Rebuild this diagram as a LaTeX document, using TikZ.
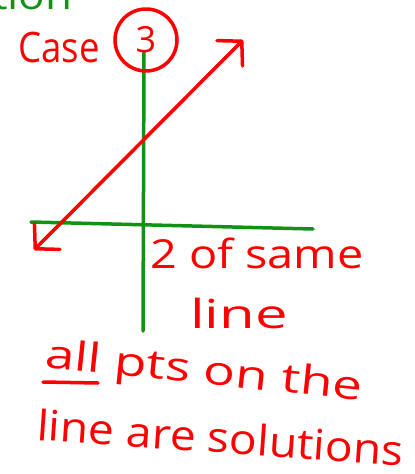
\documentclass[tikz,border=0pt]{standalone}
\usepackage{fontspec}
\usepackage{graphicx}
\setmainfont{Open Sans}
\usetikzlibrary{arrows.meta, positioning, calc}
\definecolor{inkred}{HTML}{FF0000}
\definecolor{inkgreen}{HTML}{129212}
\newcommand{\widen}[2]{\scalebox{#1}[1]{#2}}

\begin{document}
\begin{tikzpicture}[x=1pt, y=-1pt,
    pen/.style={line width=3.5pt, line cap=round, line join=round},
    note/.style={text=inkred, inner sep=0pt, anchor=base west},
    >={Straight Barb[length=17pt, width=36pt, round]}]
  \useasboundingbox (0,0) rectangle (415,474);
  \begin{scope}
    \clip (0,0) rectangle (415,474);
    \node[note, text=inkgreen, font=\fontsize{40}{42}\selectfont] (title) at (-8,9) {\widen{1.1}{tion}};
  \end{scope}

  % axes
  \coordinate (ytop) at (144,52);
  \coordinate (ybot) at (143,331);
  \coordinate (xleft) at (31,222);
  \coordinate (xright) at (313,229);
  \draw[pen, inkgreen] (ytop) -- (ybot);
  \draw[pen, inkgreen] (xleft) -- (xright);

  % the line
  \coordinate (lineA) at (34,250);
  \coordinate (lineB) at (243,40);
  \draw[pen, inkred, <->] (lineA) -- (lineB);

  % labels
  \node[note, font=\fontsize{42}{44}\selectfont] (casename) at (18,62) {\widen{0.87}{Case}};
  \node[draw=inkred, pen, circle, minimum size=62pt, inner sep=0pt, text=inkred,
        font=\fontsize{36}{38}\selectfont] (casenum) at (146,40) {3};
  \node[note, font=\fontsize{40}{42}\selectfont] (same) at (150,268) {\widen{1.17}{2 of same}};
  \node[note, font=\fontsize{40}{42}\selectfont] (line) at (190,328) {\widen{1.45}{line}};
  \node[note, rotate=-6, font=\fontsize{40}{42}\selectfont] (allpts) at (44,367) {\widen{1.32}{all pts on the}};
  \draw[pen, inkred] (43,382) coordinate (ulA) -- (98,383) coordinate (ulB);
  \node[note, rotate=-4, font=\fontsize{42}{44}\selectfont] (solutions) at (36,440) {\widen{1.1}{line are solutions}};
\end{tikzpicture}
\end{document}
